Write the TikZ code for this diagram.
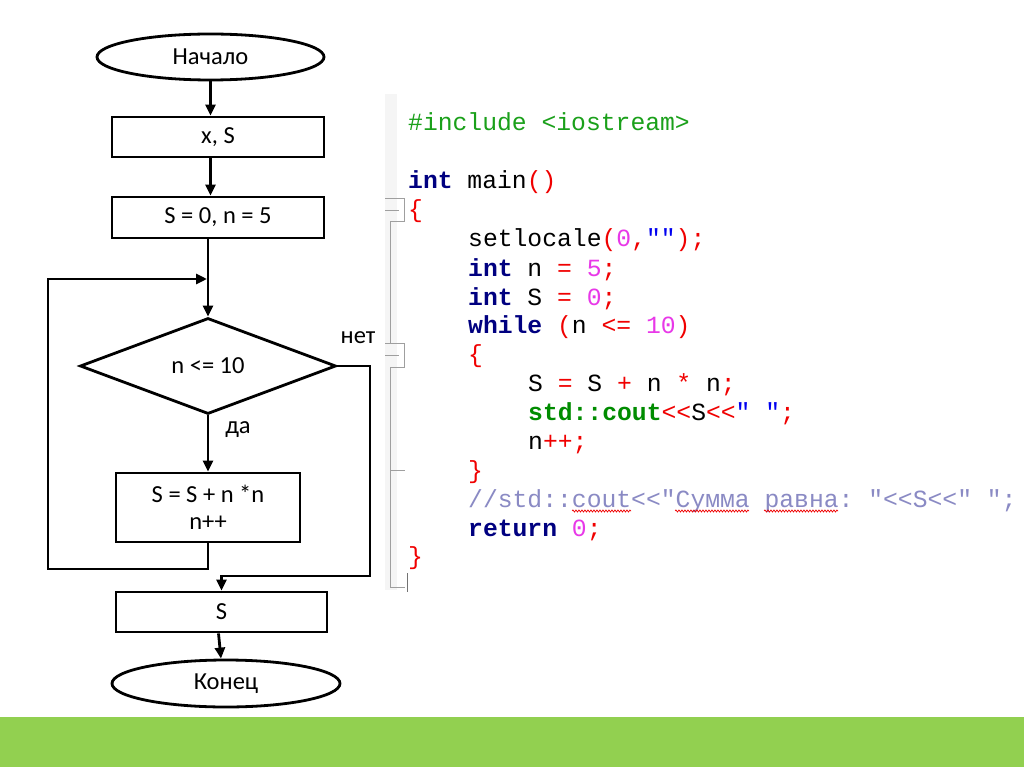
\documentclass[tikz,border=0pt]{standalone}
\usepackage{fontspec}
\setmainfont{Carlito}
\setmonofont{Liberation Mono}
\usetikzlibrary{shapes.geometric,arrows.meta,decorations.pathmorphing}

\definecolor{kwblue}{HTML}{000080}
\definecolor{incgreen}{HTML}{1AA01A}
\definecolor{coutgreen}{HTML}{008C00}
\definecolor{opred}{HTML}{F00000}
\definecolor{nummag}{HTML}{E838E8}
\definecolor{strblue}{HTML}{0000F0}
\definecolor{cmtgray}{HTML}{8A8AC4}
\definecolor{bargreen}{HTML}{92D050}

\newcommand{\ckw}[1]{\textcolor{kwblue}{\bfseries #1}}
\newcommand{\cop}[1]{\textcolor{opred}{#1}}
\newcommand{\cnum}[1]{\textcolor{nummag}{#1}}
\newcommand{\cstr}[1]{\textcolor{strblue}{#1}}

\tikzset{
  flowbox/.style={draw, line width=2.8pt, rectangle, inner sep=0pt, align=center,
    font=\fontsize{24.5}{27}\selectfont},
  term/.style={draw, line width=2.8pt, ellipse, inner sep=0pt,
    font=\fontsize{24.5}{27}\selectfont},
  decide/.style={draw, line width=2.8pt, diamond, aspect=2.667, inner sep=0pt,
    font=\fontsize{24.5}{27}\selectfont},
  flag/.style={inner sep=0pt, font=\fontsize{24.5}{27}\selectfont},
  arrow/.style={line width=2.8pt, -{Triangle[length=11pt,width=10pt]}},
  codeline/.style={anchor=base west, inner sep=0pt, font=\fontsize{24.7}{29}\ttfamily},
  gutter/.style={draw=gray!75, line width=1pt},
  squiggle/.style={draw=opred, line width=0.7pt, decorate,
    decoration={snake, amplitude=1pt, segment length=3pt}},
}

\begin{document}
\begin{tikzpicture}[x=1pt, y=-1pt]
    \useasboundingbox (0,0) rectangle (1024,767);
    \fill[white] (0,0) rectangle (1024,767);
    \fill[bargreen] (0,717) rectangle (1024,767);

    % flowchart
    \node[term, minimum width=227pt, minimum height=46pt] (start) at (210.5,57) {Начало};
    \node[flowbox, minimum width=212pt, minimum height=40pt] (input) at (218,137) {x, S};
    \node[flowbox, minimum width=212pt, minimum height=41pt] (init) at (218,217.5) {S = 0, n = 5};
    \node[decide, minimum width=256pt, minimum height=96pt] (cond) at (208,366) {n <= 10};
    \node[flowbox, minimum width=184pt, minimum height=69pt] (body) at (208,507.5) {S = S + n *n\\ n++};
    \node[flowbox, minimum width=211pt, minimum height=40pt] (output) at (221.5,612) {S};
    \node[term, minimum width=228pt, minimum height=47pt] (stop) at (226,683.5) {Конец};

    \node[flag] (nolabel) at (358,338) {нет};
    \node[flag] (yeslabel) at (238,430) {да};

    \coordinate (merge) at (207,279);
    \coordinate (loopcorner) at (48,569);
    \coordinate (exitcorner) at (370,576);

    \draw[arrow] (start.south) -- (start.south |- input.north);
    \draw[arrow] (input.south -| start.south) -- (init.north -| start.south);
    \draw[arrow] (init.south -| cond.north) -- (cond.north);
    \draw[arrow] (cond.south) -- (body.north);
    \draw[arrow] (body.south) |- (loopcorner) |- (merge);
    \draw[arrow] (cond.east) -| (exitcorner) -| (output.north);
    \draw[arrow] ([xshift=-3pt]output.south) -- ([xshift=-5pt]stop.north);

    % code listing
    \fill[gray!8] (385,94) rectangle (397,590);
    \draw[gutter] (385,199) -- (404,199) -- (404,222) -- (390,222);
    \draw[gutter] (385,211) -- (399,211);
    \draw[gutter] (390,222) -- (390,343);
    \draw[gutter] (385,343) -- (404,343) -- (404,367) -- (390,367);
    \draw[gutter] (385,355) -- (399,355);
    \draw[gutter] (390,367) -- (390,587) -- (405,587);
    \draw[gutter] (390,470) -- (405,470);
    \draw[draw=gray!90!black, line width=1pt] (407,573) -- (407,592);

    \node[codeline] (l1) at (408,131) {\textcolor{incgreen}{\#include <iostream>}};
    \node[codeline] (l2) at (408,189) {\ckw{int} main\cop{()}};
    \node[codeline] (l3) at (408,218) {\cop{\{}};
    \node[codeline] (l4) at (468,247) {setlocale\cop{(}\cnum{0}\cop{,}\cstr{""}\cop{);}};
    \node[codeline] (l5) at (468,276) {\ckw{int} n \cop{=} \cnum{5}\cop{;}};
    \node[codeline] (l6) at (468,305) {\ckw{int} S \cop{=} \cnum{0}\cop{;}};
    \node[codeline] (l7) at (468,333) {\ckw{while} \cop{(}n \cop{<=} \cnum{10}\cop{)}};
    \node[codeline] (l8) at (468,362) {\cop{\{}};
    \node[codeline] (l9) at (528,391) {S \cop{=} S \cop{+} n \cop{*} n\cop{;}};
    \node[codeline] (l10) at (528,420) {\textcolor{coutgreen}{\bfseries std::cout}\cop{<<}S\cop{<<}\cstr{" "}\cop{;}};
    \node[codeline] (l11) at (528,449) {n\cop{++;}};
    \node[codeline] (l12) at (468,478) {\cop{\}}};
    \node[codeline] (l13) at (468,507) {\textcolor{cmtgray}{//std::cout<<"Сумма равна: "<<S<<" ";}};
    \node[codeline] (l14) at (468,536) {\ckw{return} \cnum{0}\cop{;}};
    \node[codeline] (l15) at (408,564) {\cop{\}}};

    % spell check marks
    \draw[squiggle] (572,511) -- (631,511);
    \draw[squiggle] (675,511) -- (749,511);
    \draw[squiggle] (764,511) -- (838,511);
\end{tikzpicture}
\end{document}
